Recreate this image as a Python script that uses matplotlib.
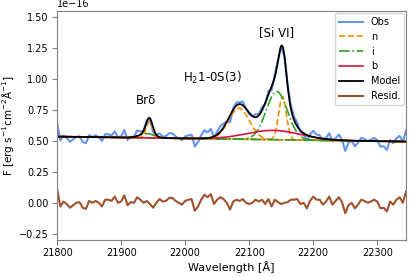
import numpy as np
import matplotlib
matplotlib.use("Agg")
import matplotlib.pyplot as plt

# residuals (1e-16 units), read every 5 A from 21800 to 22345
wl_start = 21800
wl_step = 5
resid = [0.11, -0.03, 0.01, -0.01, -0.04, -0.02, 0.0, 0.005, -0.04, -0.05,
         0.015, 0.0, 0.015, 0.0, -0.03, 0.025, 0.025, 0.015, 0.05, 0.0,
         0.01, 0.06, -0.02, 0.005, 0.0, 0.045, 0.025, 0.0, 0.015, -0.01,
         -0.04, 0.0, 0.03, 0.01, 0.015, 0.04, 0.04, 0.015, 0.0, -0.015,
         0.015, 0.025, 0.03, -0.065, -0.03, 0.025, 0.065, 0.045, 0.07, -0.01,
         0.025, 0.045, 0.03, 0.0, -0.055, 0.01, 0.025, 0.015, 0.03, 0.0,
         -0.01, 0.0, 0.025, 0.01, 0.025, -0.01, 0.03, -0.03, 0.025, 0.005,
         -0.01, 0.0, 0.005, 0.025, 0.025, 0.03, -0.01, 0.0, -0.045, 0.015,
         0.05, 0.025, 0.025, -0.015, 0.01, 0.05, -0.015, 0.015, 0.045, 0.005,
         -0.085, -0.02, 0.0, -0.045, -0.015, 0.025, 0.015, 0.0, 0.01, 0.025,
         0.01, -0.045, -0.04, -0.07, 0.01, -0.015, 0.025, 0.045, 0.0, 0.09]

# continuum (value at 21800, slope per A)
cont_0 = 0.535
cont_slope = -0.04 / 545

# fitted gaussian components: (center, amplitude, sigma)
n_lines = [(21944, 0.13, 5.0), (22084, 0.25, 16.0), (22152, 0.35, 6.0)]
i_lines = [(21940, 0.035, 11.0), (22143, 0.39, 16.5)]
b_lines = [(22138, 0.075, 42.0)]

labels = ["Brδ", "H$_2$1-0S(3)", "[Si VI]"]
label_x = [21939, 22042, 22143]
label_y = [0.83, 1.01, 1.38]

scale = 1e-16


def gauss(x, c, a, s):
    return a * np.exp(-0.5 * ((x - c) / s) ** 2)


wl = wl_start + wl_step * np.arange(len(resid))
wl_fine = np.arange(21800, 22346, 1.0)


def cont(x):
    return cont_0 + cont_slope * (x - 21800)


def model(x):
    m = cont(x)
    for c, a, s in n_lines + i_lines + b_lines:
        m = m + gauss(x, c, a, s)
    return m


obs = model(wl) + np.array(resid)

fig = plt.figure(figsize=(4.11, 2.77), dpi=100)
ax = fig.add_axes([0.139, 0.134, 0.849, 0.826])

ax.plot(wl, obs * scale, color="cornflowerblue", lw=1.5, label="Obs")
for k, (c, a, s) in enumerate(n_lines):
    ax.plot(wl_fine, (cont(wl_fine) + gauss(wl_fine, c, a, s)) * scale,
            color="darkorange", ls="--", lw=1.2, label="n" if k == 0 else None)
for k, (c, a, s) in enumerate(i_lines):
    ax.plot(wl_fine, (cont(wl_fine) + gauss(wl_fine, c, a, s)) * scale,
            color="tab:green", ls="-.", lw=1.2, label="i" if k == 0 else None)
for k, (c, a, s) in enumerate(b_lines):
    ax.plot(wl_fine, (cont(wl_fine) + gauss(wl_fine, c, a, s)) * scale,
            color="crimson", lw=1.2, label="b" if k == 0 else None)
ax.plot(wl_fine, model(wl_fine) * scale, color="black", lw=1.3, label="Model")
ax.plot(wl, np.array(resid) * scale, color="sienna", lw=1.5, label="Resid.")

for t, x, y in zip(labels, label_x, label_y):
    ax.text(x, y * scale, t, ha="center", va="center", fontsize=8.5)

ax.set_xlim(21800, 22345)
ax.set_ylim(-0.3e-16, 1.55e-16)
ax.set_xticks([21800, 21900, 22000, 22100, 22200, 22300])
ax.set_yticks(np.array([-0.25, 0.0, 0.25, 0.5, 0.75, 1.0, 1.25, 1.5]) * scale)
ax.tick_params(labelsize=7, color="gray", length=3.5, pad=2.5)
ax.yaxis.get_offset_text().set_fontsize(7)
for sp in ax.spines.values():
    sp.set_color("gray")

ax.set_xlabel("Wavelength [Å]", fontsize=8, labelpad=2)
ax.set_ylabel("F [erg s$^{-1}$cm$^{-2}$Å$^{-1}$]", fontsize=7.5, labelpad=2)
ax.legend(loc="upper right", fontsize=7, borderaxespad=0.2, handlelength=2.5)

fig.savefig("out.png", dpi=100)
